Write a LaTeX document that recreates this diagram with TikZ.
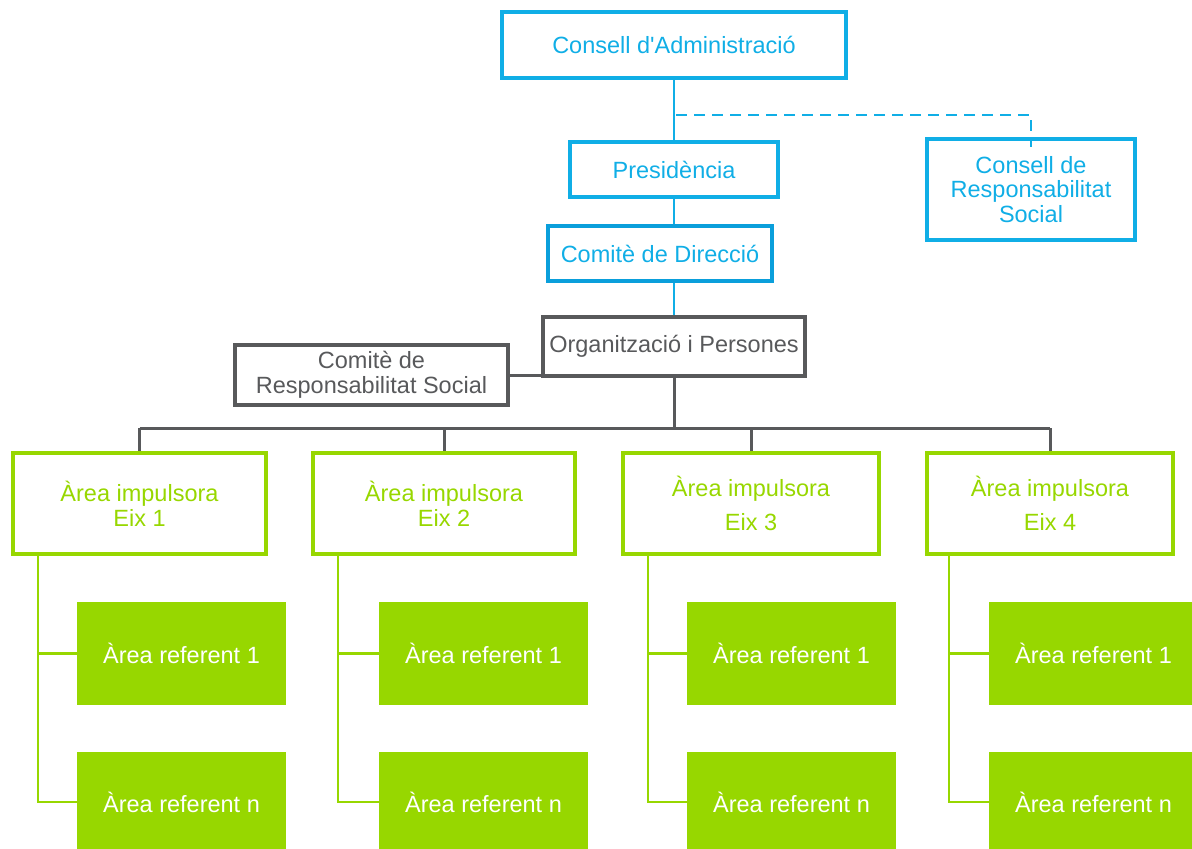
\documentclass[tikz,border=0pt]{standalone}
\usepackage{fontspec}
\setmainfont{Liberation Sans}
\definecolor{cblue}{HTML}{10AEE6}
\definecolor{cblued}{HTML}{0A9FDB}
\definecolor{cgray}{HTML}{58595B}
\definecolor{cgreen}{HTML}{97D700}
\tikzset{
  base/.style={rectangle, inner sep=0pt, align=center, font=\fontsize{23.5}{26}\selectfont},
  bluebox/.style={base, draw=cblue, line width=3.5pt, text=cblue},
  graybox/.style={base, draw=cgray, line width=3.5pt, text=cgray},
  eixbox/.style={base, draw=cgreen, line width=3.5pt, text=cgreen},
  refbox/.style={base, fill=cgreen, text=white, minimum width=209pt},
  blueline/.style={draw=cblue, line width=2.5pt},
  grayline/.style={draw=cgray, line width=3pt},
  greenline/.style={draw=cgreen, line width=2.5pt},
}
\begin{document}
\begin{tikzpicture}[x=1pt,y=-1pt]
\useasboundingbox (0,0) rectangle (1192,849);
\begin{scope}
\clip (0,0) rectangle (1192,849);
% top blue part
\node[bluebox, minimum width=344pt, minimum height=66pt] (ca) at (674,45) {Consell d\textquotesingle Administració};
\node[bluebox, minimum width=208pt, minimum height=55pt] (pr) at (674,169.5) {Presidència};
\node[bluebox, draw=cblued, line width=4pt, minimum width=224pt, minimum height=55pt] (cd) at (660,253.5) {Comitè de Direcció};
\node[bluebox, minimum width=208pt, minimum height=101pt, font=\fontsize{23.5}{24.5}\selectfont] (crs) at (1031,189.5) {Consell de\\Responsabilitat\\Social};
% gray part
\node[graybox, minimum width=262pt, minimum height=59pt] (op) at (674,346.5) {Organització i Persones};
\node[graybox, minimum width=273pt, minimum height=60pt, font=\fontsize{23.5}{25}\selectfont] (cmrs) at (371.5,375) {Comitè de\\Responsabilitat Social};
% eix boxes
\node[eixbox, minimum width=253pt, minimum height=101pt, font=\fontsize{23.5}{25}\selectfont] (e1) at (139.5,503.5) {Àrea impulsora\\Eix 1};
\node[eixbox, minimum width=262pt, minimum height=101pt, font=\fontsize{23.5}{25}\selectfont] (e2) at (444,503.5) {Àrea impulsora\\Eix 2};
\node[eixbox, minimum width=256pt, minimum height=101pt, font=\fontsize{23.5}{34}\selectfont] (e3) at (751,503.5) {Àrea impulsora\\Eix 3};
\node[eixbox, minimum width=246pt, minimum height=101pt, font=\fontsize{23.5}{34}\selectfont] (e4) at (1050,503.5) {Àrea impulsora\\Eix 4};
% referent boxes
\node[refbox, minimum height=103pt] (r11) at (181.5,653.5) {Àrea referent 1};
\node[refbox, minimum height=100pt] (r1n) at (181.5,802) {Àrea referent n};
\node[refbox, minimum height=103pt] (r21) at (483.5,653.5) {Àrea referent 1};
\node[refbox, minimum height=100pt] (r2n) at (483.5,802) {Àrea referent n};
\node[refbox, minimum height=103pt] (r31) at (791.5,653.5) {Àrea referent 1};
\node[refbox, minimum height=100pt] (r3n) at (791.5,802) {Àrea referent n};
\node[refbox, minimum height=103pt] (r41) at (1093.5,653.5) {Àrea referent 1};
\node[refbox, minimum height=100pt] (r4n) at (1093.5,802) {Àrea referent n};
% blue connectors
\draw[blueline] (ca.south) -- (pr.north);
\draw[blueline] (pr.south) -- (pr.south |- cd.north);
\draw[blueline] (pr.south |- cd.south) -- (op.north);
\coordinate (dj) at (676,115);
\draw[blueline, dash pattern=on 11pt off 7pt] (dj) -- (crs.north |- dj) -- ([yshift=-10pt]crs.north);
% gray connectors
\draw[grayline] (cmrs.east |- 0,375) -- (op.west |- 0,375);
\coordinate (hb) at (674,428);
\draw[grayline] (op.south) -- (hb);
\draw[grayline] (e1.north |- hb) -- (e4.north |- hb);
\draw[grayline] (e1.north |- hb) -- (e1.north);
\draw[grayline] (e2.north |- hb) -- (e2.north);
\draw[grayline] (e3.north |- hb) -- (e3.north);
\draw[grayline] (e4.north |- hb) -- (e4.north);
% green connectors
\draw[greenline] (38,556) |- (r1n.west);
\draw[greenline] (38,653.5) -- (r11.west);
\draw[greenline] (338,556) |- (r2n.west);
\draw[greenline] (338,653.5) -- (r21.west);
\draw[greenline] (648,556) |- (r3n.west);
\draw[greenline] (648,653.5) -- (r31.west);
\draw[greenline] (949,556) |- (r4n.west);
\draw[greenline] (949,653.5) -- (r41.west);
\end{scope}
\end{tikzpicture}
\end{document}
